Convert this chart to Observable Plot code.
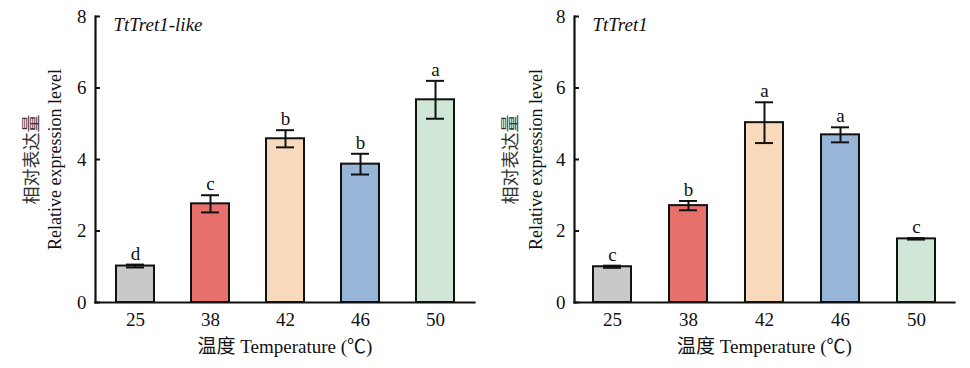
<!DOCTYPE html>
<html><head><meta charset="utf-8">
<script src="https://cdn.jsdelivr.net/npm/d3@7"></script>
<script src="https://cdn.jsdelivr.net/npm/@observablehq/plot@0.6"></script>
<style>body{margin:0;background:#fff} #c{display:flex;width:970px;height:368px}</style>
</head><body><div id="c"></div><script>
const temps = ["25","38","42","46","50"];
const colors = ["#c9c9c7","#e6706c","#f8d9bc","#98b5d8","#d0e6d6"];
const likeMean = [1.02,2.76,4.58,3.87,5.67];
const likeErr = [0.04,0.24,0.24,0.29,0.53];
const likeLetters = ["d","c","b","b","a"];
const tretMean = [1.00,2.71,5.03,4.69,1.78];
const tretErr = [0.03,0.13,0.57,0.21,0.02];
const tretLetters = ["c","b","a","a","c"];
const yTicks = [0,2,4,6,8];
const font = "'Liberation Serif', 'Times New Roman', 'Noto Sans CJK SC', serif";

function panel(title, means, errs, letters, ml, mr, dxEn, dxZh) {
  const data = temps.map((t, i) => ({t, v: means[i], e: errs[i], c: colors[i], l: letters[i]}));
  return Plot.plot({
    width: 485, height: 368,
    marginLeft: ml, marginRight: mr, marginTop: 16, marginBottom: 66,
    style: {fontFamily: font, fontSize: "17px", color: "#111", background: "#fff"},
    x: {domain: temps, paddingInner: 0.5, paddingOuter: 0.25, label: null},
    y: {domain: [0, 8], label: null},
    color: {type: "identity"},
    marks: [
      Plot.barY(data, {x: "t", y: "v", fill: "c", stroke: "#111", strokeWidth: 2}),
      Plot.ruleX(data, {x: "t", y1: d => d.v - d.e, y2: d => d.v + d.e, stroke: "#111", strokeWidth: 2}),
      Plot.tickY(data, {x: "t", y: d => d.v + d.e, inset: 10, stroke: "#111", strokeWidth: 2}),
      Plot.tickY(data, {x: "t", y: d => d.v - d.e, inset: 10, stroke: "#111", strokeWidth: 2}),
      Plot.text(data, {x: "t", y: d => d.v + d.e, text: "l", dy: -5, lineAnchor: "bottom", fontSize: 19, fill: "#111"}),
      Plot.axisY({ticks: yTicks, tickSize: 0, tickPadding: 9, fontSize: 19, label: null, tickFormat: d => d}),
      Plot.axisY({ticks: yTicks, tickSize: 5, dx: 5, text: null, label: null, strokeWidth: 2}),
      Plot.axisX({tickSize: 0, tickPadding: 10, fontSize: 19, label: null}),
      Plot.frame({anchor: "left", strokeWidth: 2.2, stroke: "#111"}),
      Plot.frame({anchor: "bottom", strokeWidth: 2.2, stroke: "#111"}),
      Plot.text([title], {frameAnchor: "top-left", dx: 18, dy: 1, lineAnchor: "top", fontStyle: "italic", fontSize: 19, fill: "#111"}),
      Plot.text(["Relative expression level"], {frameAnchor: "left", textAnchor: "middle", rotate: -90, dx: dxEn, fontSize: 18, fill: "#111"}),
      Plot.text(["相对表达量"], {frameAnchor: "left", textAnchor: "middle", rotate: -90, dx: dxZh, fontSize: 18, fill: "#333"}),
      Plot.text(["温度 Temperature (℃)"], {frameAnchor: "bottom", dy: 50, fontSize: 19, fill: "#111"})
    ]
  });
}

const c = document.getElementById("c");
c.append(panel("TtTret1-like", likeMean, likeErr, likeLetters, 95, 11, -40, -63));
c.append(panel("TtTret1", tretMean, tretErr, tretLetters, 89, 16, -38, -63));
</script></body></html>
